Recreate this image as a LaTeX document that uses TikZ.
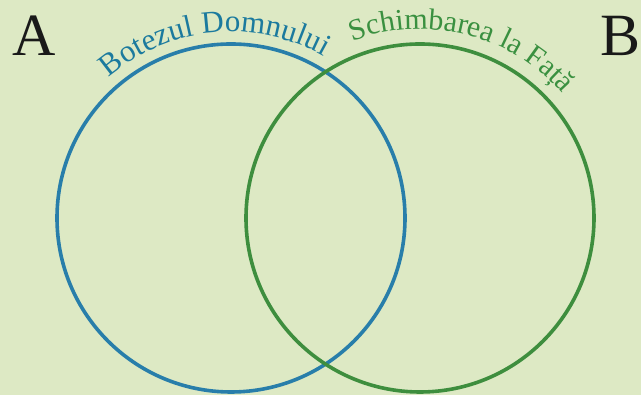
\documentclass[tikz,border=0pt]{standalone}
\usepackage{fontspec}
\setmainfont{Liberation Serif}
\usetikzlibrary{decorations.text,calc}
\definecolor{bg}{RGB}{221,233,196}
\definecolor{bline}{RGB}{40,126,170}
\definecolor{btext}{RGB}{27,122,158}
\definecolor{gline}{RGB}{62,142,62}
\definecolor{gtext}{RGB}{58,144,64}
\tikzset{
  ring/.style={line width=3.6pt},
  bigletter/.style={font=\fontsize{60}{60}\selectfont, text=black!90, inner sep=0pt},
}
\begin{document}
\begin{tikzpicture}[x=1pt,y=1pt]
\fill[bg] (0,0) rectangle (641,395);
\useasboundingbox (0,0) rectangle (641,395);
\coordinate (cb) at (231,177);
\coordinate (cg) at (420,177);
\draw[ring, bline] (cb) circle[radius=174];
\draw[ring, gline] (cg) circle[radius=174];
\node[bigletter] (A) at (34,359) {A};
\node[bigletter] (B) at (621,359) {B};
\path[decorate, decoration={text along path, text align=center,
  text={|\fontsize{31}{31}\selectfont\color{btext}|Botezul Domnului}}]
  ($(cb)+(155.5:186)$) arc[start angle=155.5, end angle=35.5, radius=186];
\path[decorate, decoration={text along path, text align=center,
  text={|\fontsize{30}{30}\selectfont\color{gtext}|Schimbarea la Față}}]
  ($(cg)+(136:189)$) arc[start angle=136, end angle=16, radius=189];
\end{tikzpicture}
\end{document}
